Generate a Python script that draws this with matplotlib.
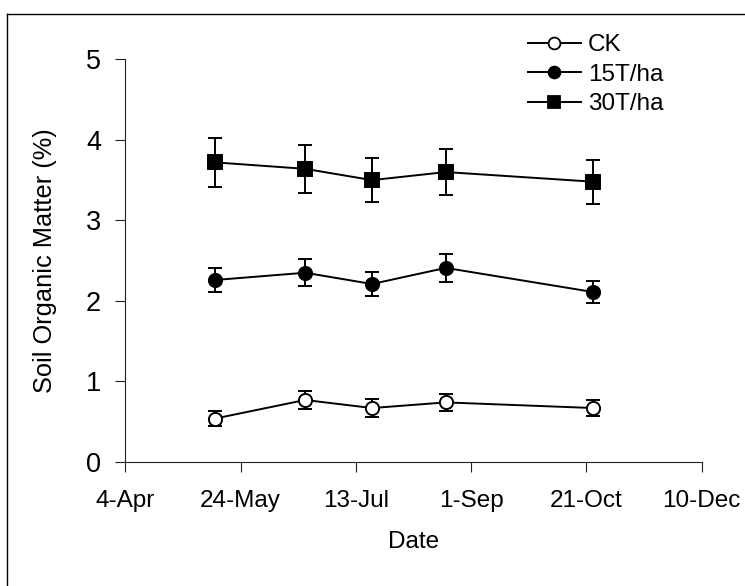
import matplotlib
matplotlib.use("Agg")
import matplotlib.pyplot as plt
import matplotlib.dates as mdates
from matplotlib.lines import Line2D
from datetime import datetime

plt.rcParams['font.family'] = ['Liberation Sans', 'DejaVu Sans']

# ---- data ----
dates = ["2009-05-13", "2009-06-21", "2009-07-20", "2009-08-21", "2009-10-24"]
series_names = ["CK", "15T/ha", "30T/ha"]
ck_mean = [0.54, 0.77, 0.67, 0.74, 0.67]
ck_err = [0.09, 0.11, 0.11, 0.11, 0.10]
t15_mean = [2.26, 2.35, 2.21, 2.41, 2.11]
t15_err = [0.15, 0.17, 0.145, 0.17, 0.135]
t30_mean = [3.72, 3.64, 3.50, 3.60, 3.48]
t30_err = [0.30, 0.30, 0.27, 0.285, 0.275]
tick_dates = ["2009-04-04", "2009-05-24", "2009-07-13", "2009-09-01", "2009-10-21", "2009-12-10"]
tick_labels = ["4-Apr", "24-May", "13-Jul", "1-Sep", "21-Oct", "10-Dec"]
y_ticks = [0, 1, 2, 3, 4, 5]

x = [mdates.date2num(datetime.strptime(d, "%Y-%m-%d")) for d in dates]
xt = [mdates.date2num(datetime.strptime(d, "%Y-%m-%d")) for d in tick_dates]

W, H = 745, 586
fig = plt.figure(figsize=(W / 100, H / 100), dpi=100)
ax = fig.add_axes([125.3 / W, 1 - 462 / H, (701.7 - 125.3) / W, (462 - 59.3) / H])

styles = [
    dict(marker='o', mfc='white', mec='black'),
    dict(marker='o', mfc='black', mec='black'),
    dict(marker='s', mfc='black', mec='black'),
]
means = [ck_mean, t15_mean, t30_mean]
errs = [ck_err, t15_err, t30_err]
handles = []
for name, m, e, st in zip(series_names, means, errs, styles):
    ax.errorbar(x, m, yerr=e, fmt='none', ecolor='black', elinewidth=1.4,
                capsize=5, capthick=1.4, zorder=2)
    ax.plot(x, m, color='black', lw=1.4, ms=9.5, mew=1.4, zorder=3, **st)
    handles.append(Line2D([], [], color='black', lw=1.4, ms=8.5, mew=1.3, **st))

ax.set_xlim(xt[0], xt[-1])
ax.set_ylim(0, 5)
ax.set_xticks(xt)
ax.set_xticklabels(tick_labels)
ax.set_yticks(y_ticks)
ax.set_yticklabels([str(v) for v in y_ticks])

for s in ['top', 'right']:
    ax.spines[s].set_visible(False)
for s in ['left', 'bottom']:
    ax.spines[s].set_linewidth(0.8)
    ax.spines[s].set_color('#222222')

ax.tick_params(axis='x', direction='out', length=7.5, width=0.8, color='#222222',
               pad=13, labelsize=17.5)
ax.tick_params(axis='y', direction='out', length=7.5, width=0.8, color='#222222',
               pad=10, labelsize=19.5)

ax.set_xlabel("Date", fontsize=17.5)
ax.xaxis.set_label_coords(0.5, -0.172)
ax.set_ylabel("Soil Organic Matter (%)", fontsize=18.3)
ax.yaxis.set_label_coords(-0.118, 0.5)

leg = fig.legend(handles, series_names, loc='upper left',
                 bbox_to_anchor=(527.7 / W, 1 - 34 / H), frameon=False,
                 fontsize=17.5, handlelength=2.2, handletextpad=0.28,
                 labelspacing=0.31, borderpad=0, borderaxespad=0)

# figure frame (top and left edges visible)
fig.add_artist(Line2D([7.3 / W, 7.3 / W], [0, 1 - 14 / H], color='black', lw=1.0,
                      transform=fig.transFigure))
fig.add_artist(Line2D([7.3 / W, 1], [1 - 14 / H, 1 - 14 / H], color='black', lw=1.0,
                      transform=fig.transFigure))

fig.savefig("out.png", dpi=100)
